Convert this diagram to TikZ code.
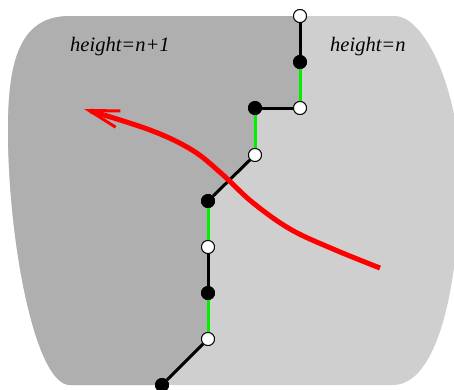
\documentclass[tikz,border=0pt]{standalone}
\usepackage{fontspec}
\setmainfont{Liberation Serif}
\usetikzlibrary{arrows.meta}
\definecolor{darkg}{gray}{0.686}
\definecolor{lightg}{gray}{0.81}
\definecolor{edgegreen}{RGB}{0,240,0}
\tikzset{
  wv/.style={circle,draw=black,fill=white,line width=0.9pt,minimum size=13pt,inner sep=0pt},
  bv/.style={circle,draw=black,fill=black,line width=0.9pt,minimum size=13pt,inner sep=0pt},
  blk/.style={draw=black,line width=3pt},
  grn/.style={draw=edgegreen,line width=3pt},
  lbl/.style={font=\fontsize{20.5}{24}\selectfont\itshape,inner sep=0pt,anchor=base west},
}
\begin{document}
\begin{tikzpicture}[x=1pt,y=-1pt]
\clip (0,0) rectangle (454,389);
\def\blob{(70,16) -- (395,16) .. controls (420,16) and (450,70) .. (458,140)
  .. controls (465,250) and (445,385) .. (393,385) -- (70,385)
  .. controls (35,385) and (8,240) .. (8,130) .. controls (8,60) and (20,16) .. (70,16) -- cycle}
\fill[lightg] \blob;
\begin{scope}
\clip \blob;
\fill[darkg] (-10,-10) -- (300,-10) -- (300,108) -- (255,108) -- (255,155) -- (208,201)
  -- (208,339) -- (162,385) -- (162,400) -- (-10,400) -- cycle;
\end{scope}
\node[lbl] (t1) at (70,51) {height=n+1};
\node[lbl] (t2) at (330,51) {height=n};
\node[wv] (w1) at (300,16) {};
\node[bv] (b1) at (300,62) {};
\node[wv] (w2) at (300,108) {};
\node[bv] (b2) at (255,108) {};
\node[wv] (w3) at (255,155) {};
\node[bv] (b3) at (208,201) {};
\node[wv] (w4) at (208,247) {};
\node[bv] (b4) at (208,293) {};
\node[wv] (w5) at (208,339) {};
\node[bv] (b5) at (162,385) {};
\draw[blk] (w1) -- (b1);
\draw[grn] (b1) -- (w2);
\draw[blk] (w2) -- (b2);
\draw[grn] (b2) -- (w3);
\draw[blk] (w3) -- (b3);
\draw[grn] (b3) -- (w4);
\draw[blk] (w4) -- (b4);
\draw[grn] (b4) -- (w5);
\draw[blk] (w5) -- (b5);
\node[wv] at (w1) {};\node[bv] at (b1) {};\node[wv] at (w2) {};\node[bv] at (b2) {};
\node[wv] at (w3) {};\node[bv] at (b3) {};\node[wv] at (w4) {};\node[bv] at (b4) {};
\node[wv] at (w5) {};\node[bv] at (b5) {};
\coordinate (rs) at (380,268);
\coordinate (re) at (84,109);
\draw[red,line width=5pt,-{Straight Barb[length=30pt,width=17pt,line width=3pt]}]
  plot[smooth,tension=0.6] coordinates {(rs) (333,249) (290,229) (252,202) (222,174) (192,150) (150,130) (re)};
\end{tikzpicture}
\end{document}
